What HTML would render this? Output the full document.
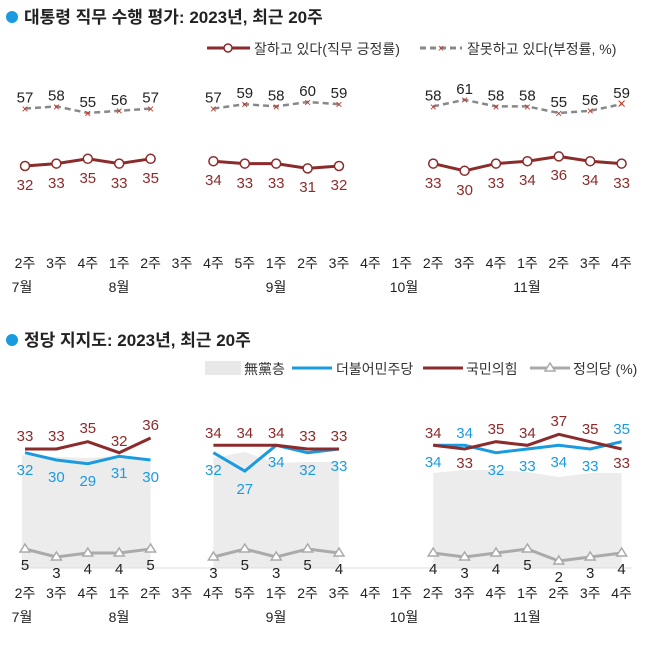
<!DOCTYPE html>
<html><head><meta charset="utf-8"><style>
body{margin:0;background:#fff;}
svg text{font-family:"Liberation Sans","Noto Sans CJK KR",sans-serif;}
</style></head><body>
<svg width="650" height="643" viewBox="0 0 650 643" xmlns="http://www.w3.org/2000/svg">
<!-- titles -->
<circle cx="12" cy="17" r="6" fill="#1a9be0"/>
<text x="24" y="23" font-size="17" font-weight="bold" fill="#222">대통령 직무 수행 평가: 2023년, 최근 20주</text>
<circle cx="12" cy="340" r="6" fill="#1a9be0"/>
<text x="24" y="346" font-size="17" font-weight="bold" fill="#222">정당 지지도: 2023년, 최근 20주</text>

<!-- top legend -->
<line x1="207" y1="48" x2="250" y2="48" stroke="#8b2b2b" stroke-width="3"/>
<circle cx="228" cy="48" r="4" fill="#fff" stroke="#8b2b2b" stroke-width="1.5"/>
<text x="254" y="54" font-size="14" fill="#333">잘하고 있다(직무 긍정률)</text>
<line x1="420" y1="48" x2="462" y2="48" stroke="#888" stroke-width="3" stroke-dasharray="6,4"/>
<text x="441" y="52" font-size="11" fill="#c0392b" text-anchor="middle">×</text>
<text x="467" y="54" font-size="14" fill="#333">잘못하고 있다(부정률, %)</text>

<!-- top chart neg -->
<g fill="none" stroke="#888" stroke-width="2.5" stroke-dasharray="6,4">
<polyline points="25,108.6 56.4,106.4 87.8,113 119.2,110.8 150.6,108.6"/>
<polyline points="213.4,108.6 244.8,104.2 276.2,106.4 307.6,102 339,104.2"/>
<polyline points="433.2,106.4 464.6,99.8 496,106.4 527.4,106.4 558.8,113 590.2,110.8 621.6,104.2"/>
</g>
<g font-size="12" fill="#c0392b" text-anchor="middle">
<text x="25" y="113">×</text><text x="56.4" y="110.8">×</text><text x="87.8" y="117.4">×</text><text x="119.2" y="115.2">×</text><text x="150.6" y="113">×</text>
<text x="213.4" y="113">×</text><text x="244.8" y="108.6">×</text><text x="276.2" y="110.8">×</text><text x="307.6" y="106.4">×</text><text x="339" y="108.6">×</text>
<text x="433.2" y="110.8">×</text><text x="464.6" y="104.2">×</text><text x="496" y="110.8">×</text><text x="527.4" y="110.8">×</text><text x="558.8" y="117.4">×</text><text x="590.2" y="115.2">×</text><text x="621.6" y="108.6" font-size="15">×</text>
</g>
<g font-size="15" fill="#222" text-anchor="middle">
<text x="25" y="102.6">57</text><text x="56.4" y="100.4">58</text><text x="87.8" y="107">55</text><text x="119.2" y="104.8">56</text><text x="150.6" y="102.6">57</text>
<text x="213.4" y="102.6">57</text><text x="244.8" y="98.2">59</text><text x="276.2" y="100.4">58</text><text x="307.6" y="96">60</text><text x="339" y="98.2">59</text>
<text x="433.2" y="100.4">58</text><text x="464.6" y="93.8">61</text><text x="496" y="100.4">58</text><text x="527.4" y="100.4">58</text><text x="558.8" y="107">55</text><text x="590.2" y="104.8">56</text><text x="621.6" y="98.2">59</text>
</g>
<!-- top chart pos -->
<g fill="none" stroke="#8b2b2b" stroke-width="3">
<polyline points="25,166 56.4,163.6 87.8,158.8 119.2,163.6 150.6,158.8"/>
<polyline points="213.4,161.2 244.8,163.6 276.2,163.6 307.6,168.4 339,166"/>
<polyline points="433.2,163.6 464.6,170.8 496,163.6 527.4,161.2 558.8,156.4 590.2,161.2 621.6,163.6"/>
</g>
<g fill="#fff" stroke="#8b2b2b" stroke-width="1.5">
<circle cx="25" cy="166" r="4.5"/><circle cx="56.4" cy="163.6" r="4.5"/><circle cx="87.8" cy="158.8" r="4.5"/><circle cx="119.2" cy="163.6" r="4.5"/><circle cx="150.6" cy="158.8" r="4.5"/>
<circle cx="213.4" cy="161.2" r="4.5"/><circle cx="244.8" cy="163.6" r="4.5"/><circle cx="276.2" cy="163.6" r="4.5"/><circle cx="307.6" cy="168.4" r="4.5"/><circle cx="339" cy="166" r="4.5"/>
<circle cx="433.2" cy="163.6" r="4.5"/><circle cx="464.6" cy="170.8" r="4.5"/><circle cx="496" cy="163.6" r="4.5"/><circle cx="527.4" cy="161.2" r="4.5"/><circle cx="558.8" cy="156.4" r="4.5"/><circle cx="590.2" cy="161.2" r="4.5"/><circle cx="621.6" cy="163.6" r="4.5"/>
</g>
<g font-size="15" fill="#8b2b2b" text-anchor="middle">
<text x="25" y="190">32</text><text x="56.4" y="188">33</text><text x="87.8" y="183">35</text><text x="119.2" y="188">33</text><text x="150.6" y="183">35</text>
<text x="213.4" y="185">34</text><text x="244.8" y="188">33</text><text x="276.2" y="188">33</text><text x="307.6" y="192">31</text><text x="339" y="190">32</text>
<text x="433.2" y="188">33</text><text x="464.6" y="195">30</text><text x="496" y="188">33</text><text x="527.4" y="185">34</text><text x="558.8" y="180">36</text><text x="590.2" y="185">34</text><text x="621.6" y="188">33</text>
</g>
<!-- top x labels -->
<g font-size="14" fill="#222" text-anchor="middle">
<text x="25" y="268">2주</text><text x="56.4" y="268">3주</text><text x="87.8" y="268">4주</text><text x="119.2" y="268">1주</text><text x="150.6" y="268">2주</text><text x="182" y="268">3주</text><text x="213.4" y="268">4주</text><text x="244.8" y="268">5주</text><text x="276.2" y="268">1주</text><text x="307.6" y="268">2주</text><text x="339" y="268">3주</text><text x="370.4" y="268">4주</text><text x="401.8" y="268">1주</text><text x="433.2" y="268">2주</text><text x="464.6" y="268">3주</text><text x="496" y="268">4주</text><text x="527.4" y="268">1주</text><text x="558.8" y="268">2주</text><text x="590.2" y="268">3주</text><text x="621.6" y="268">4주</text>
<text x="22" y="292">7월</text><text x="119" y="292">8월</text><text x="276" y="292">9월</text><text x="404" y="292">10월</text><text x="527" y="292">11월</text>
</g>

<!-- bottom legend -->
<rect x="205" y="361" width="36" height="14" fill="#e8e8e8"/>
<text x="244" y="374" font-size="14" fill="#333">無黨층</text>
<line x1="292" y1="368" x2="332" y2="368" stroke="#1a9be0" stroke-width="3"/>
<text x="336" y="374" font-size="14" fill="#333">더불어민주당</text>
<line x1="423" y1="368" x2="463" y2="368" stroke="#8b2b2b" stroke-width="3"/>
<text x="466" y="374" font-size="14" fill="#333">국민의힘</text>
<line x1="530" y1="368" x2="570" y2="368" stroke="#aaa" stroke-width="3"/>
<polygon points="550,363 555,371 545,371" fill="#fff" stroke="#aaa" stroke-width="1.5"/>
<text x="573" y="374" font-size="14" fill="#333">정의당 (%)</text>

<!-- area -->
<g fill="#ececec">
<polygon points="22,455 56.4,457 87.8,458 119.2,456 150.6,462 150.6,568 22,568"/>
<polygon points="213.4,458 244.8,452 276.2,463 307.6,462 339,462 339,568 213.4,568"/>
<polygon points="433.2,473 464.6,470 496,470 527.4,472 558.8,477 590.2,473 621.6,473 621.6,568 433.2,568"/>
</g>
<line x1="20" y1="568" x2="632" y2="568" stroke="#ddd" stroke-width="1"/>

<!-- 정의당 -->
<g fill="none" stroke="#aaa" stroke-width="3">
<polyline points="25,549 56.4,557 87.8,553 119.2,553 150.6,549"/>
<polyline points="213.4,557 244.8,549 276.2,557 307.6,549 339,553"/>
<polyline points="433.2,553 464.6,557 496,553 527.4,549 558.8,561 590.2,557 621.6,553"/>
</g>
<g fill="#fff" stroke="#aaa" stroke-width="1.5">
<polygon points="25,544 30,552 20,552"/><polygon points="56.4,552 61.4,560 51.4,560"/><polygon points="87.8,548 92.8,556 82.8,556"/><polygon points="119.2,548 124.2,556 114.2,556"/><polygon points="150.6,544 155.6,552 145.6,552"/>
<polygon points="213.4,552 218.4,560 208.4,560"/><polygon points="244.8,544 249.8,552 239.8,552"/><polygon points="276.2,552 281.2,560 271.2,560"/><polygon points="307.6,544 312.6,552 302.6,552"/><polygon points="339,548 344,556 334,556"/>
<polygon points="433.2,548 438.2,556 428.2,556"/><polygon points="464.6,552 469.6,560 459.6,560"/><polygon points="496,548 501,556 491,556"/><polygon points="527.4,544 532.4,552 522.4,552"/><polygon points="558.8,556 563.8,564 553.8,564"/><polygon points="590.2,552 595.2,560 585.2,560"/><polygon points="621.6,548 626.6,556 616.6,556"/>
</g>
<g font-size="15" fill="#222" text-anchor="middle">
<text x="25" y="570">5</text><text x="56.4" y="578">3</text><text x="87.8" y="574">4</text><text x="119.2" y="574">4</text><text x="150.6" y="570">5</text>
<text x="213.4" y="578">3</text><text x="244.8" y="570">5</text><text x="276.2" y="578">3</text><text x="307.6" y="570">5</text><text x="339" y="574">4</text>
<text x="433.2" y="574">4</text><text x="464.6" y="578">3</text><text x="496" y="574">4</text><text x="527.4" y="570">5</text><text x="558.8" y="582">2</text><text x="590.2" y="578">3</text><text x="621.6" y="574">4</text>
</g>

<!-- 민주당 -->
<g fill="none" stroke="#1a9be0" stroke-width="3">
<polyline points="25,452.7 56.4,460 87.8,463.7 119.2,456.3 150.6,460"/>
<polyline points="213.4,452.7 244.8,471 276.2,445.3 307.6,452.7 339,449"/>
<polyline points="433.2,445.3 464.6,445.3 496,452.7 527.4,449 558.8,445.3 590.2,449 621.6,441.7"/>
</g>
<!-- 국민의힘 -->
<g fill="none" stroke="#8b2b2b" stroke-width="3">
<polyline points="25,449 56.4,449 87.8,441.7 119.2,452.7 150.6,438"/>
<polyline points="213.4,445.3 244.8,445.3 276.2,445.3 307.6,449 339,449"/>
<polyline points="433.2,445.3 464.6,449 496,441.7 527.4,445.3 558.8,434.3 590.2,441.7 621.6,449"/>
</g>
<g font-size="15" fill="#8b2b2b" text-anchor="middle">
<text x="25" y="441">33</text><text x="56.4" y="441">33</text><text x="87.8" y="433">35</text><text x="119.2" y="446">32</text><text x="150.6" y="430">36</text>
<text x="213.4" y="438">34</text><text x="244.8" y="438">34</text><text x="276.2" y="438">34</text><text x="307.6" y="441">33</text><text x="339" y="441">33</text>
<text x="433.2" y="438">34</text><text x="464.6" y="468">33</text><text x="496" y="434">35</text><text x="527.4" y="438">34</text><text x="558.8" y="426">37</text><text x="590.2" y="434">35</text><text x="621.6" y="468">33</text>
</g>
<g font-size="15" fill="#1a9be0" text-anchor="middle">
<text x="25" y="475">32</text><text x="56.4" y="482">30</text><text x="87.8" y="486">29</text><text x="119.2" y="478">31</text><text x="150.6" y="482">30</text>
<text x="213.4" y="475">32</text><text x="244.8" y="494">27</text><text x="276.2" y="467">34</text><text x="307.6" y="475">32</text><text x="339" y="471">33</text>
<text x="433.2" y="467">34</text><text x="464.6" y="438">34</text><text x="496" y="475">32</text><text x="527.4" y="471">33</text><text x="558.8" y="467">34</text><text x="590.2" y="471">33</text><text x="621.6" y="434">35</text>
</g>

<!-- bottom x labels -->
<g font-size="14" fill="#222" text-anchor="middle">
<text x="25" y="598">2주</text><text x="56.4" y="598">3주</text><text x="87.8" y="598">4주</text><text x="119.2" y="598">1주</text><text x="150.6" y="598">2주</text><text x="182" y="598">3주</text><text x="213.4" y="598">4주</text><text x="244.8" y="598">5주</text><text x="276.2" y="598">1주</text><text x="307.6" y="598">2주</text><text x="339" y="598">3주</text><text x="370.4" y="598">4주</text><text x="401.8" y="598">1주</text><text x="433.2" y="598">2주</text><text x="464.6" y="598">3주</text><text x="496" y="598">4주</text><text x="527.4" y="598">1주</text><text x="558.8" y="598">2주</text><text x="590.2" y="598">3주</text><text x="621.6" y="598">4주</text>
<text x="22" y="622">7월</text><text x="119" y="622">8월</text><text x="276" y="622">9월</text><text x="404" y="622">10월</text><text x="527" y="622">11월</text>
</g>
</svg>
</body></html>
